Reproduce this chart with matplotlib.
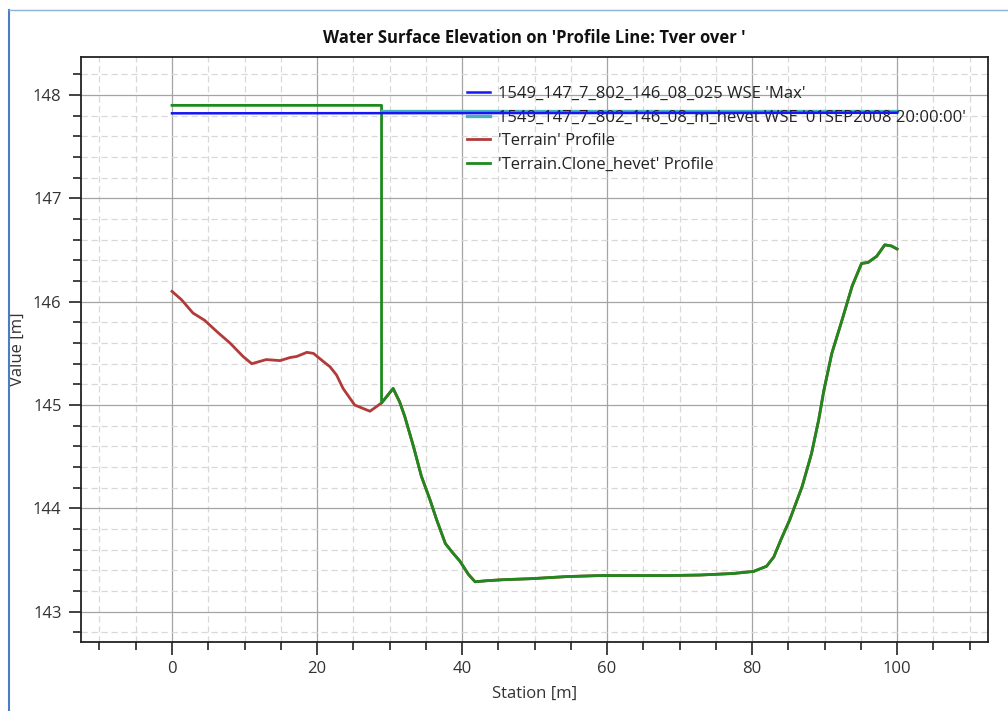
import matplotlib
matplotlib.use("Agg")
import matplotlib.pyplot as plt
from matplotlib.ticker import MultipleLocator
from matplotlib.lines import Line2D

# ---- data ----
terrain_station = [0.0, 1.3, 2.9, 4.5, 6.2, 8.0, 9.8, 11.0, 13.0, 14.9, 16.3, 17.2,
                   18.6, 19.5, 20.9, 21.8, 22.7, 23.6, 25.2, 27.3, 28.9, 30.5, 31.4,
                   32.1, 33.3, 34.4, 35.6, 36.5, 37.7, 38.6, 39.7, 40.9, 41.8, 43.4,
                   45.7, 49.6, 54.4, 59.0, 63.6, 68.2, 72.8, 77.4, 80.2, 82.0, 83.0,
                   84.0, 85.2, 86.9, 88.2, 89.2, 89.9, 91.0, 92.4, 93.8, 95.1, 96.0,
                   97.2, 98.3, 99.2, 100.0]
terrain_elev = [146.10, 146.02, 145.89, 145.82, 145.71, 145.60, 145.47, 145.40, 145.44,
                145.43, 145.46, 145.47, 145.51, 145.50, 145.42, 145.37, 145.29, 145.16,
                145.00, 144.94, 145.02, 145.16, 145.03, 144.89, 144.60, 144.31, 144.08,
                143.89, 143.66, 143.58, 143.49, 143.36, 143.29, 143.30, 143.31, 143.32,
                143.34, 143.35, 143.35, 143.35, 143.355, 143.37, 143.39, 143.44, 143.53,
                143.70, 143.89, 144.21, 144.53, 144.86, 145.14, 145.50, 145.82, 146.15,
                146.37, 146.38, 146.44, 146.55, 146.54, 146.51]

clone_raised_station = [0.0, 28.9]
clone_raised_elev = [147.90, 147.90]

wse_max_station = [0.0, 100.0]
wse_max_elev = [147.823, 147.828]

wse_hevet_station = [28.9, 100.0]
wse_hevet_elev = [147.845, 147.845]

labels = ["1549_147_7_802_146_08_025 WSE 'Max'",
          "1549_147_7_802_146_08_m_hevet WSE '01SEP2008 20:00:00'",
          "'Terrain' Profile",
          "'Terrain.Clone_hevet' Profile"]

# clone profile = raised section followed by the terrain beyond the break
clone_station = clone_raised_station + [s for s in terrain_station if s >= 28.9]
clone_elev = clone_raised_elev + [e for s, e in zip(terrain_station, terrain_elev) if s >= 28.9]

plt.rcParams['font.family'] = ['Open Sans', 'DejaVu Sans']

fig = plt.figure(figsize=(10.08, 7.11), dpi=100)
ax = fig.add_axes([81/1008, 1-641.7/711, (987.7-81)/1008, (641.7-57.3)/711])

ax.plot(terrain_station, terrain_elev, color='#B23A3A', lw=2.0, zorder=3, label=labels[2])
ax.plot(clone_station, clone_elev, color='#1E8A1E', lw=2.0, zorder=4, label=labels[3])
ax.plot(wse_hevet_station, wse_hevet_elev, color='#45B0BE', lw=2.4, zorder=5, label=labels[1])
ax.plot(wse_max_station, wse_max_elev, color='#1515F5', lw=1.8, zorder=6, label=labels[0])

ax.set_xlim(-12.55, 112.5)
ax.set_ylim(142.71, 148.365)

ax.xaxis.set_major_locator(MultipleLocator(20))
ax.xaxis.set_minor_locator(MultipleLocator(5))
ax.yaxis.set_major_locator(MultipleLocator(1))
ax.yaxis.set_minor_locator(MultipleLocator(0.2))

ax.grid(which='major', color='#A4A4A4', lw=0.9, ls='-')
ax.grid(which='minor', color='#D8D8D8', lw=0.9, ls=(0, (5, 3)))
ax.set_axisbelow(True)

ax.tick_params(which='major', direction='out', length=9, width=1.2, color='#222222',
               labelsize=12, labelcolor='#333333', pad=5)
ax.tick_params(which='minor', direction='out', length=5.5, width=1.2, color='#222222')
ax.tick_params(axis='x', pad=5)

for sp in ['top', 'right', 'bottom', 'left']:
    ax.spines[sp].set_color('#222222')
    ax.spines[sp].set_linewidth(1.3)

ax.set_xlabel('Station [m]', fontsize=12, color='#333333', labelpad=6)
ax.set_ylabel('Value [m]', fontsize=12, color='#333333', labelpad=5)
ax.set_title("Water Surface Elevation on 'Profile Line: Tver over '", fontsize=12,
             fontweight='bold', color='#111111', pad=10)

handles, lbls = ax.get_legend_handles_labels()
order = [lbls.index(l) for l in labels]
leg = ax.legend([handles[i] for i in order], [lbls[i] for i in order],
                loc='upper left', bbox_to_anchor=((467-81)/(987.7-81), 1-(86-57.3)/(641.7-57.3)),
                frameon=False, fontsize=12, handlelength=1.4, handletextpad=0.45,
                labelspacing=0.45, borderaxespad=0, borderpad=0)
for t in leg.get_texts():
    t.set_color('#222222')

# screenshot frame lines
fig.add_artist(Line2D([9/1008, 9/1008], [0, 1-10/711], transform=fig.transFigure,
                      color='#4A7EC0', lw=1.5))
fig.add_artist(Line2D([9/1008, 1], [1-10/711, 1-10/711], transform=fig.transFigure,
                      color='#8FB0D8', lw=1.0))

fig.savefig('out.png', dpi=100)
